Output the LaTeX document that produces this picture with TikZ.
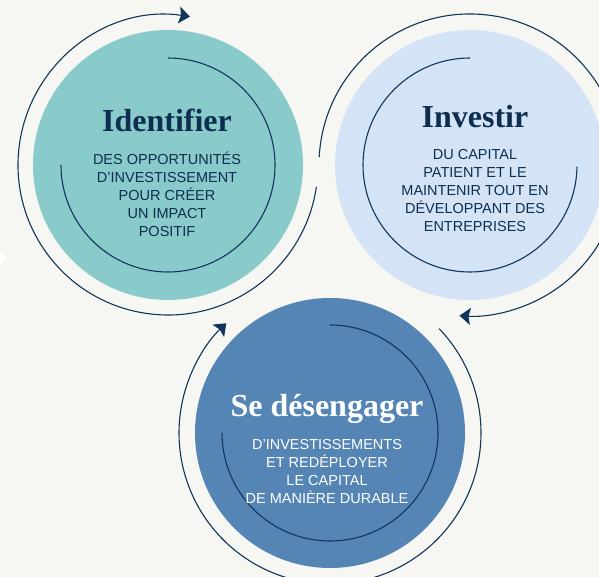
\documentclass[tikz,border=0pt]{standalone}
\usepackage{fontspec}
\setmainfont{Liberation Serif}
\setsansfont{Liberation Sans}
\usetikzlibrary{arrows.meta}
\definecolor{bgc}{HTML}{F6F6F2}
\definecolor{tealc}{HTML}{89CACA}
\definecolor{lightc}{HTML}{D4E3F5}
\definecolor{midc}{HTML}{5585B5}
\definecolor{navy}{HTML}{12355B}
\definecolor{navytext}{HTML}{0E2E50}
\newcommand{\sublines}[1]{\setlength{\tabcolsep}{0pt}\begin{tabular}[t]{c}#1\end{tabular}}
\tikzset{
  disc/.style={circle, minimum size=270pt, inner sep=0pt, draw=none},
  ring/.style={draw=navy, line width=1.1pt},
  ringarrow/.style={ring, -{Stealth[length=11pt, width=17pt, inset=2pt]}},
  titletext/.style={font=\bfseries\fontsize{32}{36}\selectfont, anchor=base, inner sep=0pt},
  subtext/.style={font=\sffamily\fontsize{14.5}{18}\selectfont, anchor=base, inner sep=0pt},
}
\begin{document}
\begin{tikzpicture}[x=1pt, y=1pt]
\useasboundingbox (0,0) rectangle (599,577);
\fill[bgc] (0,0) rectangle (599,577);
% small white mark at left edge
\fill[white] (0,327) -- (6,319) -- (0,310) -- cycle;
% discs
\node[disc, fill=tealc] (c1) at (168,412) {};
\node[disc, fill=lightc] (c2) at (470,412) {};
\node[disc, fill=midc] (c3) at (330,144) {};
% outer arcs with arrows
\draw[ringarrow] ([shift={(-8.4:150)}]c1.center) arc[start angle=-8.4, end angle=-278.4, radius=150];
\draw[ringarrow] ([shift={(177:151)}]c2.center) arc[start angle=177, end angle=-94, radius=151];
\draw[ringarrow] ([shift={(43.7:151)}]c3.center) arc[start angle=43.7, end angle=-226.6, radius=151];
% inner arcs
\draw[ring] ([shift={(90:107)}]c1.center) arc[start angle=90, end angle=-180, radius=107];
\draw[ring] ([shift={(90:107)}]c2.center) arc[start angle=90, end angle=359, radius=107];
\draw[ring] ([shift={(90:108)}]c3.center) arc[start angle=90, end angle=-180, radius=108];
% texts
\node[titletext, text=navytext] (t1) at (167,445) {Identifier};
\node[subtext, text=navytext] (s1) at (167,412) {\sublines{DES OPPORTUNITÉS\\D’INVESTISSEMENT\\POUR CRÉER\\UN IMPACT\\POSITIF}};
\node[titletext, text=navytext] (t2) at (475,449) {Investir};
\node[subtext, text=navytext] (s2) at (475,417) {\sublines{DU CAPITAL\\PATIENT ET LE\\MAINTENIR TOUT EN\\DÉVELOPPANT DES\\ENTREPRISES}};
\node[titletext, text=white] (t3) at (327,160) {Se désengager};
\node[subtext, text=white] (s3) at (327,127) {\sublines{D’INVESTISSEMENTS\\ET REDÉPLOYER\\LE CAPITAL\\DE MANIÈRE DURABLE}};
\end{tikzpicture}
\end{document}
